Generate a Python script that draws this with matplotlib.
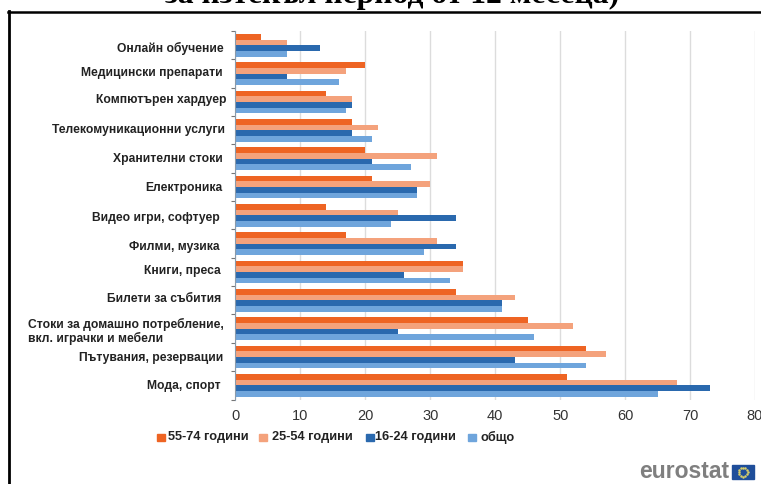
import numpy as np
import matplotlib
matplotlib.use('Agg')
import matplotlib.pyplot as plt
from matplotlib.lines import Line2D
from matplotlib.patches import Rectangle

# данни, отчетени от графиката
categories = ['Онлайн обучение', 'Медицински препарати', 'Компютърен хардуер',
              'Телекомуникационни услуги', 'Хранителни стоки', 'Електроника',
              'Видео игри, софтуер', 'Филми, музика', 'Книги, преса',
              'Билети за събития', 'Стоки за домашно потребление,\nвкл. играчки и мебели',
              'Пътувания, резервации', 'Мода, спорт']
age_55_74 = [4, 20, 14, 18, 20, 21, 14, 17, 35, 34, 45, 54, 51]
age_25_54 = [8, 17, 18, 22, 31, 30, 25, 31, 35, 43, 52, 57, 68]
age_16_24 = [13, 8, 18, 18, 21, 28, 34, 34, 26, 41, 25, 43, 73]
total = [8, 16, 17, 21, 27, 28, 24, 29, 33, 41, 46, 54, 65]
series_names = ['55-74 години', '25-54 години', '16-24 години', 'общо']
colors = ['#EE6423', '#F4A27C', '#2A69AE', '#6FA5DC']

# къде стоят подписите в оригинала (не са точно подравнени)
label_right = [224, 223, 226, 225, 223, 222, 220, 220, 221, 221, 226, 223, 221]
label_y = [48, 73, 100, 130, 159, 188, 218, 247, 271, 299, 331.5, 358, 386]

W, H = 761, 484
plt.rcParams['font.family'] = ['Liberation Sans', 'DejaVu Sans']
fig = plt.figure(figsize=(W / 100, H / 100), dpi=100)


def fx(px):
    return px / W


def fy(px):
    return 1 - px / H


ax = fig.add_axes([fx(235.5), fy(399.5), (755 - 235.5) / W, (399.5 - 31) / H])

y = np.arange(len(categories))
bar_h = 0.2
all_series = [age_55_74, age_25_54, age_16_24, total]
for i, vals in enumerate(all_series):
    ax.barh(y + (i - 1.5) * bar_h, vals, height=bar_h, color=colors[i], zorder=3)

ax.set_ylim(len(categories) - 0.5, -0.5)
ax.set_xlim(0, 80)
ax.set_xticks(range(0, 81, 10))
ax.xaxis.grid(True, color='#DCDCDC', lw=1.0, zorder=0)
ax.set_axisbelow(True)
for s in ['top', 'right', 'bottom']:
    ax.spines[s].set_visible(False)
ax.spines['left'].set_color('#8A9AAA')
ax.spines['left'].set_zorder(4)
ax.tick_params(axis='x', length=0, labelsize=10.5, labelcolor='#333333', pad=7)
ax.set_yticks(np.arange(len(categories) + 1) - 0.5, minor=True)
ax.tick_params(axis='y', which='minor', length=3, color='#777777', width=0.8)
ax.set_yticks(y)
ax.set_yticklabels([])
ax.tick_params(axis='y', which='major', length=0)

# подписи на категориите
for name, right, yp in zip(categories, label_right, label_y):
    if '\n' in name:
        fig.text(fx(28), fy(yp), name, fontsize=8.75, fontweight='bold', color='#222222',
                 ha='left', va='center', linespacing=1.05)
    else:
        fig.text(fx(right), fy(yp), name, fontsize=8.75, fontweight='bold', color='#222222',
                 ha='right', va='center')

# легенда
leg_x = [157, 259, 366, 468]
leg_text_x = [168, 272, 375, 481]
for xp, xt, name, c in zip(leg_x, leg_text_x, series_names, colors):
    fig.add_artist(Rectangle((fx(xp), fy(440.5)), 7.5 / W, 7 / H, transform=fig.transFigure, color=c))
    fig.text(fx(xt), fy(437), name, fontsize=9.2, fontweight='bold', color='#222222', va='center')

# рамка и заглавие
fig.add_artist(Line2D([fx(9), fx(9)], [fy(11), -0.01], color='black', lw=2.0, transform=fig.transFigure))
fig.add_artist(Line2D([fx(8), 1.01], [fy(11.5), fy(11.5)], color='black', lw=1.8, transform=fig.transFigure))
fig.text(fx(392), fy(3), 'за изтекъл период от 12 месеца)', fontsize=22.8, fontweight='bold',
         family='Liberation Serif', ha='center', va='baseline', color='black')

# лого
fig.text(fx(729), fy(472), 'eurostat', fontsize=16.5, fontweight='bold', color='#7F7F7F', ha='right', va='center')
fig.add_artist(Rectangle((fx(732), fy(479)), 22 / W, 14 / H, transform=fig.transFigure, color='#1F4E9A'))
for a in np.arange(12) * np.pi / 6:
    fig.add_artist(Line2D([fx(743 + 4.5 * np.cos(a))], [fy(472 + 4.5 * np.sin(a))], marker='.', ms=1.6,
                          color='#D9CF6A', transform=fig.transFigure))

fig.savefig('out.png', dpi=100)
